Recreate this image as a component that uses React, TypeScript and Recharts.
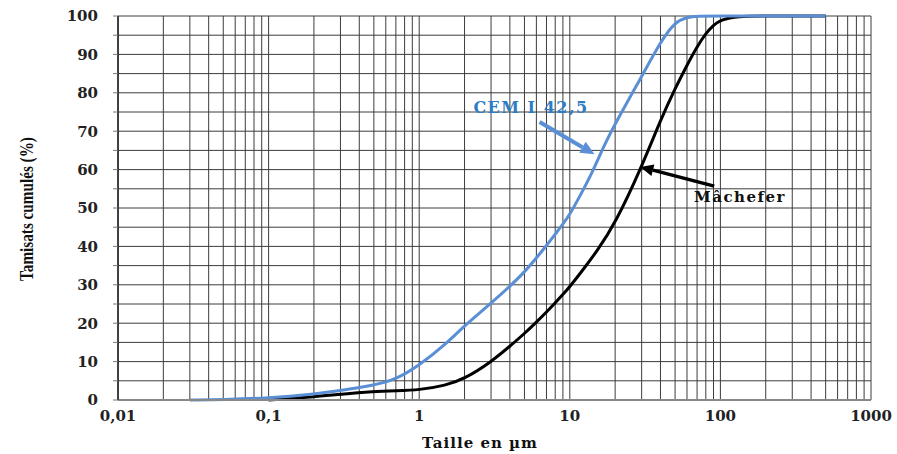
import { LineChart, Line, XAxis, YAxis, CartesianGrid, ReferenceLine } from 'recharts'

const cemX = [0.03, 0.05, 0.1, 0.2, 0.3, 0.5, 0.7, 1, 1.5, 2, 3, 4, 5, 6, 7, 8, 9, 10, 12, 14, 17, 20, 30, 40, 50, 60, 70, 100, 200, 500]
const cemY = [0, 0.1, 0.5, 1.5, 2.5, 3.8, 5.3, 9, 14.5, 19.4, 25.2, 29.6, 33.3, 37, 40.2, 43.2, 45.8, 48.3, 54, 59, 66.5, 72, 84.2, 93.3, 98.5, 99.7, 100, 100, 100, 100]

const macX = [0.1, 0.2, 0.3, 0.5, 0.7, 1, 1.5, 2, 3, 4, 5, 6, 7, 8, 9, 10, 12, 15, 20, 30, 40, 50, 60, 70, 80, 90, 100, 130, 200, 500]
const macY = [0, 0.8, 1.5, 2.2, 2.4, 2.6, 3.8, 5.5, 9.9, 14, 17.3, 20.3, 22.9, 25.3, 27.5, 29.5, 33.5, 38.5, 45.9, 60.7, 72.9, 81.1, 87.2, 92, 95.5, 97.6, 99, 100, 100, 100]

const decades = [0.01, 0.1, 1, 10, 100, 1000]
const gridX = decades.flatMap((d, i) =>
  i === decades.length - 1 ? [d] : [1, 2, 3, 4, 5, 6, 7, 8, 9].map((m) => +(d * m).toPrecision(3))
)
const yTicks = [0, 5, 10, 15, 20, 25, 30, 35, 40, 45, 50, 55, 60, 65, 70, 75, 80, 85, 90, 95, 100]

// annotation arrows (tail -> tip), data coords
const cemArrow = [{ x: 6.3, y: 72.4 }, { x: 14.6, y: 64 }]
const macArrow = [{ x: 91, y: 55.7 }, { x: 29.4, y: 60.7 }]

const cemData = cemX.map((x, i) => ({ x, y: cemY[i] }))
const macData = macX.map((x, i) => ({ x, y: macY[i] }))

const BLUE = '#5a8fd6'
const tickFont = { fontFamily: '"DejaVu Serif"', fontWeight: 700, fontSize: 15, fill: '#222' }

function arrowShape(color: string, width: number, head: number) {
  return (props: any) => {
    const { x1, y1, x2, y2 } = props
    const ang = Math.atan2(y2 - y1, x2 - x1)
    const bx = x2 - head * Math.cos(ang)
    const by = y2 - head * Math.sin(ang)
    const px = (head / 2.2) * Math.sin(ang)
    const py = (head / 2.2) * Math.cos(ang)
    return (
      <g>
        <line x1={x1} y1={y1} x2={bx} y2={by} stroke={color} strokeWidth={width} />
        <polygon points={`${x2},${y2} ${bx + px},${by - py} ${bx - px},${by + py}`} fill={color} />
      </g>
    )
  }
}

export default function App() {
  return (
    <div style={{ position: 'absolute', left: 0, top: 0, width: 897, height: 454, background: '#fff' }}>
      <LineChart width={897} height={454} margin={{ top: 16, right: 26, bottom: 24, left: 60 }}>
        <CartesianGrid stroke="#3c3c3c" strokeWidth={1} />
        <XAxis
          type="number"
          dataKey="x"
          scale="log"
          domain={[0.01, 1000]}
          ticks={gridX}
          interval={0}
          height={30}
          allowDataOverflow
          tickFormatter={(v: number) => (decades.includes(v) ? String(v).replace('.', ',') : '')}
          tick={tickFont}
          tickLine={false}
          tickSize={4}
          tickMargin={6}
          axisLine={{ stroke: '#888', strokeWidth: 2 }}
        />
        <YAxis
          type="number"
          dataKey="y"
          domain={[0, 100]}
          ticks={yTicks}
          interval={0}
          width={58}
          tickFormatter={(v: number) => (v % 10 === 0 ? String(v) : '')}
          tick={tickFont}
          tickLine={{ stroke: '#777' }}
          tickSize={5}
          tickMargin={15}
          axisLine={{ stroke: '#222', strokeWidth: 1.5 }}
        />
        <Line data={macData} dataKey="y" type="basis" stroke="#000" strokeWidth={3} dot={false} isAnimationActive={false} />
        <Line data={cemData} dataKey="y" type="basis" stroke={BLUE} strokeWidth={3} dot={false} isAnimationActive={false} />
        <ReferenceLine segment={cemArrow} shape={arrowShape(BLUE, 4, 14)} ifOverflow="visible" />
        <ReferenceLine segment={macArrow} shape={arrowShape('#000', 3.5, 13)} ifOverflow="visible" />
      </LineChart>
      <div
        style={{
          position: 'absolute',
          left: 27,
          top: 209,
          transform: 'translate(-50%, -50%) rotate(-90deg) scaleX(0.8)',
          whiteSpace: 'nowrap',
          fontFamily: '"Liberation Serif"',
          fontWeight: 700,
          fontSize: 19,
          color: '#111',
        }}
      >
        Tamisats cumulés (%)
      </div>
      <div
        style={{
          position: 'absolute',
          left: 480,
          top: 443,
          transform: 'translate(-50%, -50%)',
          whiteSpace: 'nowrap',
          fontFamily: '"DejaVu Serif"',
          fontWeight: 700,
          fontSize: 15,
          letterSpacing: 1,
          color: '#111',
        }}
      >
        Taille en µm
      </div>
      <div
        style={{
          position: 'absolute',
          left: 531,
          top: 107,
          transform: 'translate(-50%, -50%)',
          whiteSpace: 'nowrap',
          fontFamily: '"DejaVu Serif"',
          fontWeight: 700,
          fontSize: 16,
          letterSpacing: 1.5,
          color: '#2e7cc4',
        }}
      >
        CEM I 42,5
      </div>
      <div
        style={{
          position: 'absolute',
          left: 740,
          top: 197,
          transform: 'translate(-50%, -50%)',
          whiteSpace: 'nowrap',
          fontFamily: '"DejaVu Serif"',
          fontWeight: 700,
          fontSize: 15,
          letterSpacing: 1.5,
          color: '#111',
        }}
      >
        Mâchefer
      </div>
    </div>
  )
}
